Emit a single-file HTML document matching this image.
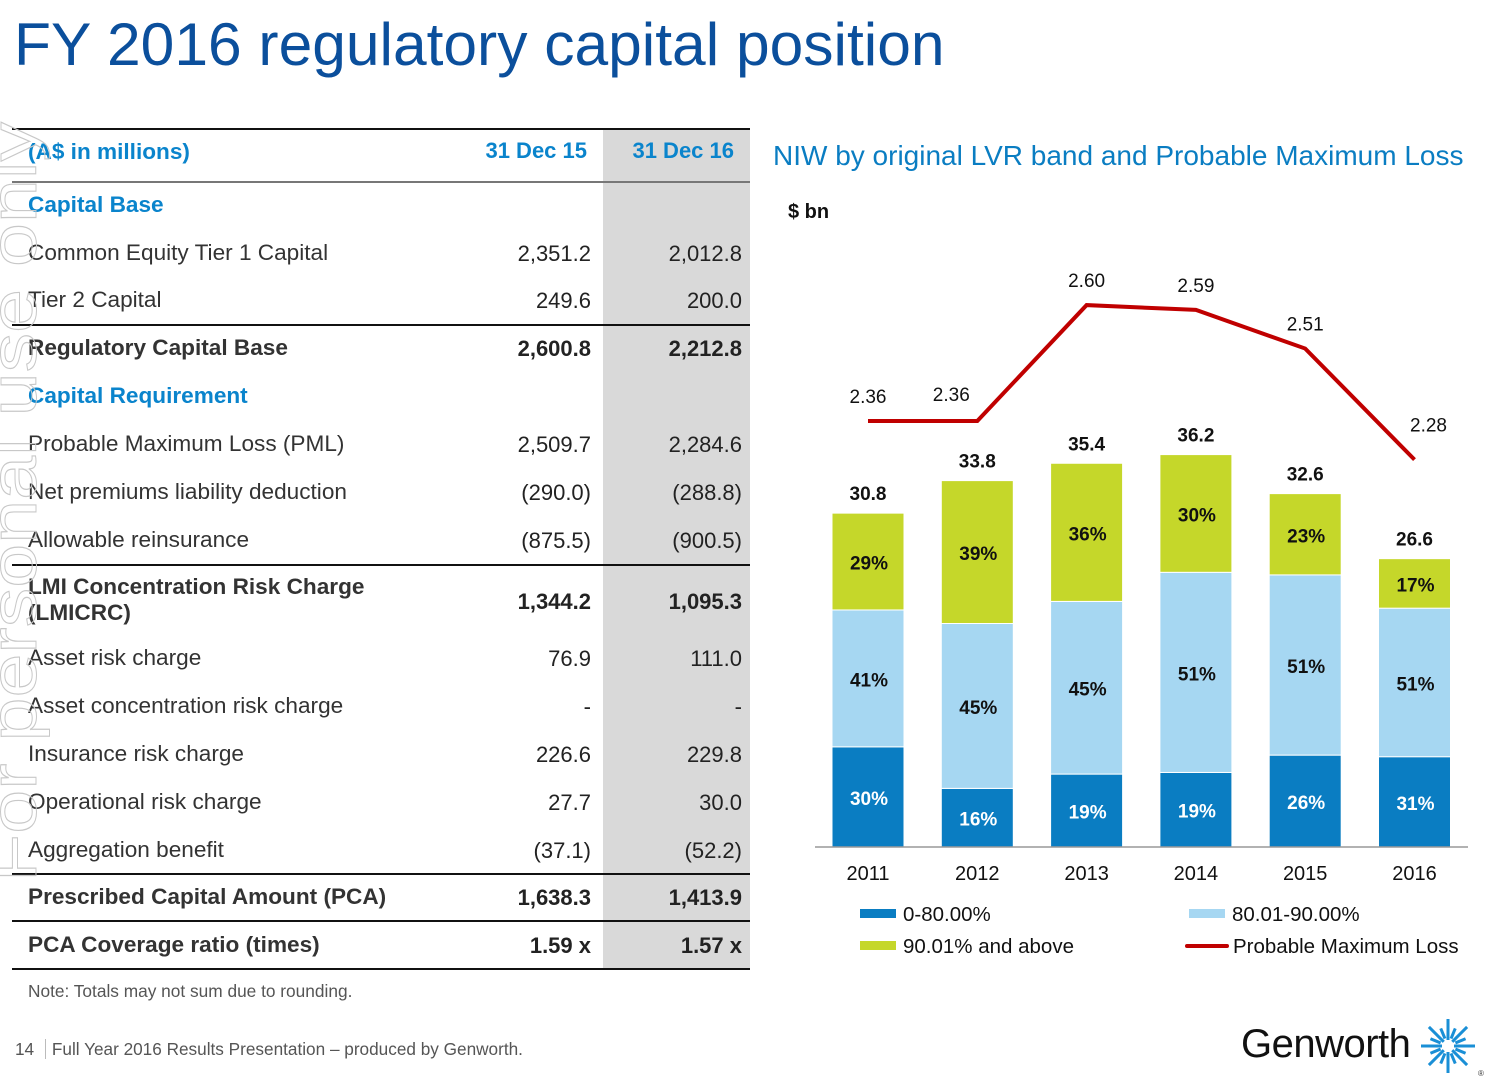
<!DOCTYPE html>
<html><head><meta charset="utf-8"><style>
body{margin:0;width:1498px;height:1083px;background:#fff;position:relative;overflow:hidden;font-family:"Liberation Sans",Arial,sans-serif}
.abs{position:absolute}
.t{position:absolute;font-size:22.6px;color:#333;white-space:nowrap;line-height:26px}
.v{position:absolute;font-size:22px;color:#222;text-align:right;white-space:nowrap;line-height:26px}
.b{font-weight:bold}
.blue{color:#0a84cc;font-weight:bold}
.hl{position:absolute;left:12px;width:738px;height:2px;background:#111}
</style></head><body>
<div class="abs" style="left:14px;top:9px;font-size:60.5px;color:#0b4f9c;line-height:70px;white-space:nowrap">FY 2016 regulatory capital position</div>

<div class="abs" style="left:603px;top:130px;width:147px;height:840px;background:#d9d9d9"></div>
<div class="hl" style="top:128px"></div>
<div class="hl" style="top:181px;background:#777"></div>
<div class="hl" style="top:324px"></div>
<div class="hl" style="top:564px"></div>
<div class="hl" style="top:873px"></div>
<div class="hl" style="top:920px"></div>
<div class="hl" style="top:968px"></div>

<div id="tbl"></div>

<svg class="abs" style="left:0;top:0" width="80" height="1083">
<text transform="translate(36,882) rotate(-90)" font-family="Liberation Sans,sans-serif" font-size="66" fill="none" stroke="#c8c8c8" stroke-width="1" textLength="760" lengthAdjust="spacingAndGlyphs">For personal use only</text>
</svg>

<div class="abs" style="left:28px;top:981px;font-size:17.3px;color:#555;white-space:nowrap">Note: Totals may not sum due to rounding.</div>
<div class="abs" style="left:15px;top:1039px;font-size:17.2px;color:#555;white-space:nowrap">14 <span style="border-left:1px solid #bbb;margin:0 6px;"></span> Full Year 2016 Results Presentation – produced by Genworth.</div>
<div class="abs" style="left:1241px;top:1022px;font-size:40px;color:#111;letter-spacing:-0.5px">Genworth</div>
<svg class="abs" style="left:1418px;top:1016px" width="80" height="62">
<g id="burst" transform="translate(30,30)"></g><text x="60" y="60" font-size="8" fill="#333">®</text></svg>

<div class="abs" style="left:773px;top:140px;font-size:28px;color:#0a7dc2;white-space:nowrap">NIW by original LVR band and Probable Maximum Loss</div>
<div class="abs" style="left:788px;top:201px;font-size:20px;font-weight:bold;color:#111">$ bn</div>
<svg id="chart" class="abs" style="left:0;top:0" width="1498" height="1083"></svg>

<script>
const years=["2011","2012","2013","2014","2015","2016"];
const totals=[30.8,33.8,35.4,36.2,32.6,26.6];
const band1=[30,16,19,19,26,31];
const band2=[41,45,45,51,51,51];
const band3=[29,39,36,30,23,17];
const pml=[2.36,2.36,2.60,2.59,2.51,2.28];
const pmlLabels=["2.36","2.36","2.60","2.59","2.51","2.28"];

const NS="http://www.w3.org/2000/svg";
const svg=document.getElementById('chart');
const x=i=>868+i*109.3;
const yb=v=>847-v*10.84;
const yl=v=>421-(v-2.36)*483;
function mk(tag,attrs,txt){const e=document.createElementNS(NS,tag);for(const k in attrs)e.setAttribute(k,attrs[k]);if(txt!==undefined)e.textContent=txt;svg.appendChild(e);return e;}
const cols=["#0a7dc2","#a6d7f2","#c5d72a"];
const txtc=["#fff","#111","#111"];
const lblDx=[0,-26,0,0,0,14];
const lblDy=[-18,-20,-18,-18,-18,-28];
years.forEach((yr,i)=>{
  const segs=[band1[i],band2[i],band3[i]];
  const sum=segs[0]+segs[1]+segs[2];
  let acc=0;
  segs.forEach((p,j)=>{
    const v0=totals[i]*acc/sum, v1=totals[i]*(acc+p)/sum;
    const r=mk('rect',{x:x(i)-36,y:yb(v1),width:72,height:yb(v0)-yb(v1),fill:cols[j],stroke:'#fff','stroke-width':1});
    
    
    const t=mk('text',{x:x(i)+1,y:(yb(v0)+yb(v1))/2+8,'text-anchor':'middle','font-size':19,'font-weight':'bold',fill:txtc[j]},p+'%');
    
    
    acc+=p;
  });
  const tl=mk('text',{x:x(i),y:yb(totals[i])-13,'text-anchor':'middle','font-size':19,'font-weight':'bold',fill:'#111'},totals[i].toFixed(1));
  
  
  const xl=mk('text',{x:x(i),y:880,'text-anchor':'middle','font-size':20,fill:'#111'},yr);
  
  
  const pl=mk('text',{x:x(i)+lblDx[i],y:yl(pml[i])+lblDy[i],'text-anchor':'middle','font-size':19,fill:'#111'},pmlLabels[i]);
  
  
});
const ax=mk('line',{x1:815,x2:1468,y1:847,y2:847,stroke:'#999','stroke-width':1.5});


const pts=pml.map((v,i)=>x(i)+','+yl(v)).join(' ');
const ln=mk('polyline',{points:pts,fill:'none',stroke:'#c00000','stroke-width':4});


const leg=[["0-80.00%",860,914,'rect',cols[0]],["80.01-90.00%",1189,914,'rect',cols[1]],["90.01% and above",860,946,'rect',cols[2]],["Probable Maximum Loss",1187,946,'line','#c00000']];
leg.forEach(l=>{
  let s;
  if(l[3]=='rect') s=mk('rect',{x:l[1],y:l[2]-5,width:36,height:9,fill:l[4]});
  else s=mk('line',{x1:l[1],x2:l[1]+40,y1:l[2],y2:l[2],stroke:l[4],'stroke-width':4,'stroke-linecap':'round'});
  
  
  const t=mk('text',{x:l[1]+(l[3]=='rect'?43:46),y:l[2]+7,'font-size':20.5,fill:'#111'},l[0]);
  
  
});
const g=document.getElementById('burst');
for(let k=0;k<16;k++){const a=k*Math.PI/8;const long=k%2==0;const r1=long?6:8,r2=long?27:19;
 const p=document.createElementNS(NS,'line');
 p.setAttribute('x1',Math.cos(a)*r1);p.setAttribute('y1',Math.sin(a)*r1);p.setAttribute('x2',Math.cos(a)*r2);p.setAttribute('y2',Math.sin(a)*r2);
 p.setAttribute('stroke','#1a8fd6');p.setAttribute('stroke-width',3);g.appendChild(p);}

const rows=[
 ["(A$ in millions)",151,"31 Dec 15","31 Dec 16","hdr"],
 ["Capital Base",204,"","","blue"],
 ["Common Equity Tier 1 Capital",252,"2,351.2","2,012.8",""],
 ["Tier 2 Capital",299,"249.6","200.0",""],
 ["Regulatory Capital Base",347,"2,600.8","2,212.8","b"],
 ["Capital Requirement",395,"","","blue"],
 ["Probable Maximum Loss (PML)",443,"2,509.7","2,284.6",""],
 ["Net premiums liability deduction",491,"(290.0)","(288.8)",""],
 ["Allowable reinsurance",539,"(875.5)","(900.5)",""],
 ["LMI Concentration Risk Charge<br>(LMICRC)",600,"1,344.2","1,095.3","b"],
 ["Asset risk charge",657,"76.9","111.0",""],
 ["Asset concentration risk charge",705,"-","-",""],
 ["Insurance risk charge",753,"226.6","229.8",""],
 ["Operational risk charge",801,"27.7","30.0",""],
 ["Aggregation benefit",849,"(37.1)","(52.2)",""],
 ["Prescribed Capital Amount (PCA)",896,"1,638.3","1,413.9","b"],
 ["PCA Coverage ratio (times)",944,"1.59 x","1.57 x","b"]
];
const tb=document.getElementById('tbl');
rows.forEach((r,i)=>{
  const d=document.createElement('div');
  const cls=r[4]=='hdr'?'blue':r[4];
  d.className='t '+cls;
  d.style.left='28px';
  d.style.top=(r[0].includes('<br>')?587-13:r[1]-12)+'px';
  d.innerHTML=r[0];
  
  
  tb.appendChild(d);
  const hdr=r[4]=='hdr';
  [[r[2],hdr?587:591],[r[3],hdr?734:742]].forEach((c,k)=>{
    if(!c[0])return;
    const v=document.createElement('div');
    v.className='v '+(hdr?'blue':r[4]);
    v.style.right=(1498-c[1])+'px';
    v.style.top=(r[1]-(hdr?13:11))+'px';
    v.textContent=c[0];
    
    
    tb.appendChild(v);
  });
});
</script>
</body></html>
